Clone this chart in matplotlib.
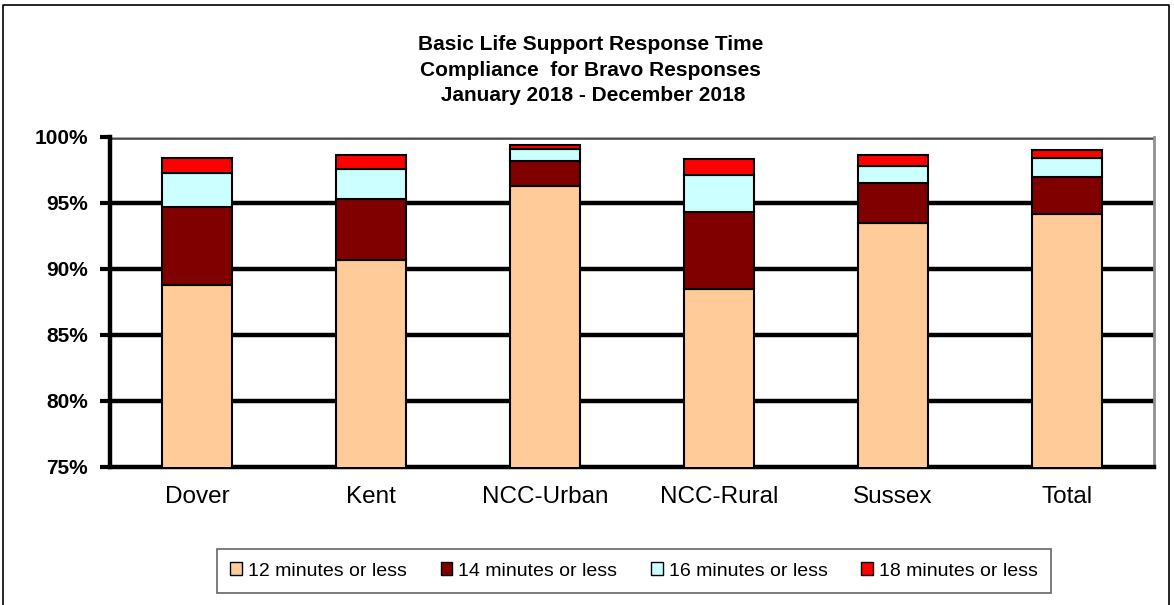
import matplotlib
matplotlib.use("Agg")
import matplotlib.pyplot as plt
import numpy as np
from matplotlib.lines import Line2D

plt.rcParams['font.family'] = ['Liberation Sans', 'DejaVu Sans']

# cumulative share of responses reached within each threshold (%)
regions = ['Dover', 'Kent', 'NCC-Urban', 'NCC-Rural', 'Sussex', 'Total']
within_12 = [88.8, 90.7, 96.3, 88.5, 93.5, 94.2]
within_14 = [94.7, 95.3, 98.2, 94.3, 96.5, 97.0]
within_16 = [97.3, 97.6, 99.1, 97.1, 97.8, 98.4]
within_18 = [98.4, 98.6, 99.4, 98.3, 98.6, 99.0]
series_names = ['12 minutes or less', '14 minutes or less',
                '16 minutes or less', '18 minutes or less']
colors = ['#FFCC99', '#800000', '#CCFFFF', '#FF0000']
yticks = [75, 80, 85, 90, 95, 100]

fig = plt.figure(figsize=(11.74, 6.05), dpi=100)
ax = fig.add_axes([110/1174, 1-467/605, 1044/1174, 330/605])

x = np.arange(len(regions))
levels = [np.zeros(len(regions)), within_12, within_14, within_16, within_18]
for i in range(4):
    bottom = np.array(levels[i])
    top = np.array(levels[i+1])
    ax.bar(x, top-bottom, bottom=bottom, width=0.4, color=colors[i],
           edgecolor='black', linewidth=1.5, label=series_names[i], zorder=3)

ax.set_xlim(-0.5, len(regions)-0.5)
ax.set_ylim(75, 100)
ax.set_yticks(yticks)
ax.set_yticklabels(['%d%%' % v for v in yticks], fontsize=15, fontweight='bold')
ax.set_xticks(x)
ax.set_xticklabels(regions, fontsize=17.5)
ax.tick_params(axis='x', length=0, pad=14)
ax.tick_params(axis='y', direction='out', length=7, width=3, pad=9)

for v in yticks[1:-1]:
    ax.axhline(v, color='black', lw=3.2, zorder=1)
ax.axhline(100, color='#404040', lw=4, zorder=1)
ax.axhline(100, color='#a8a8a8', lw=1.6, zorder=1)

ax.spines['top'].set_visible(False)
ax.spines['right'].set_color('#909090')
ax.spines['right'].set_linewidth(2)
ax.spines['left'].set_linewidth(3.2)
ax.spines['bottom'].set_linewidth(3.2)

fig.text(0.503, 1-70/605,
         'Basic Life Support Response Time\nCompliance  for Bravo Responses\n January 2018 - December 2018',
         ha='center', va='center', fontsize=15, fontweight='bold', linespacing=1.45)

leg = ax.legend(loc='center', bbox_to_anchor=(634/1174, 1-571/605),
                bbox_transform=fig.transFigure, ncol=4, fontsize=14,
                frameon=True, fancybox=False, edgecolor='#404040',
                handlelength=0.6, handleheight=0.6, handletextpad=0.3,
                columnspacing=1.75, borderpad=0.7)
leg.get_frame().set_linewidth(1.2)
for h in leg.legend_handles:
    h.set_linewidth(1.0)

# outer chart border
fig.add_artist(Line2D([3/1174, 3/1174, 1169/1174, 1169/1174], [0, 1-5/605, 1-5/605, 0],
                      transform=fig.transFigure, color='black', lw=1.2))

fig.savefig('out.png', dpi=100)
